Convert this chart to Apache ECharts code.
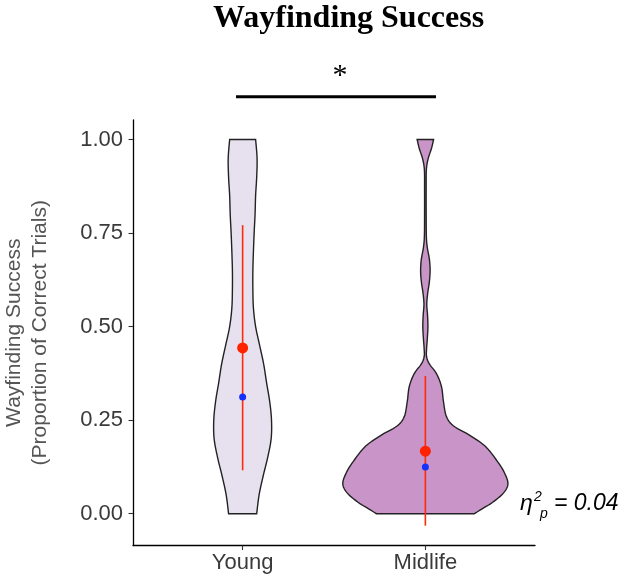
<!DOCTYPE html>
<html>
<head>
<meta charset="utf-8">
<script src="https://cdn.jsdelivr.net/npm/echarts@6/dist/echarts.min.js"></script>
<style>
  html, body { margin: 0; padding: 0; background: #fff; }
  #container { width: 624px; height: 578px; }
</style>
</head>
<body>
<div id="container"></div>
<script>
// groups on the x axis
const groups = ["Young", "Midlife"];
const yTicks = [0, 0.25, 0.5, 0.75, 1];

// violin outlines: y level and half width (in category units)
const youngLevels = [0, 0.05, 0.1, 0.15, 0.2, 0.25, 0.3, 0.35, 0.4, 0.45, 0.5, 0.55, 0.6, 0.65, 0.7, 0.75, 0.8, 0.85, 0.9, 0.95, 1.0];
const youngHalfWidth = [0.077, 0.090, 0.112, 0.137, 0.156, 0.158, 0.148, 0.131, 0.115, 0.093, 0.071, 0.059, 0.056, 0.056, 0.059, 0.063, 0.068, 0.071, 0.077, 0.079, 0.071];

const midlifeLevels = [0, 0.015, 0.03, 0.055, 0.08, 0.11, 0.14, 0.18, 0.21, 0.235, 0.26, 0.3, 0.34, 0.375, 0.4, 0.42, 0.44, 0.47, 0.5, 0.53, 0.56, 0.59, 0.62, 0.65, 0.68, 0.71, 0.74, 0.8, 0.87, 0.92, 0.95, 0.975, 1.0];
const midlifeHalfWidth = [0.268, 0.317, 0.367, 0.427, 0.452, 0.432, 0.394, 0.328, 0.241, 0.153, 0.115, 0.099, 0.088, 0.060, 0.022, 0.0066, 0.0066, 0.011, 0.014, 0.012, 0.0077, 0.013, 0.022, 0.026, 0.022, 0.011, 0.0055, 0.0044, 0.0044, 0.0055, 0.016, 0.033, 0.045];

// summary stats: mean (red), median (blue), error bar ends
const means = [0.443, 0.167];
const medians = [0.312, 0.125];
const barLow = [0.116, -0.032];
const barHigh = [0.771, 0.368];

const fills = ["#e7e1ef", "#c994c7"];
const violins = [
  { levels: youngLevels, half: youngHalfWidth },
  { levels: midlifeLevels, half: midlifeHalfWidth }
];

// catmull-rom so the outline is drawn as a curve
function smoothPts(pts, steps) {
  const out = [];
  for (let i = 0; i < pts.length - 1; i++) {
    const p0 = pts[i - 1] || pts[i], p1 = pts[i], p2 = pts[i + 1], p3 = pts[i + 2] || pts[i + 1];
    for (let s = 0; s < steps; s++) {
      const t = s / steps, t2 = t * t, t3 = t2 * t;
      out.push([0, 1].map(k => 0.5 * (2 * p1[k] + (-p0[k] + p2[k]) * t +
        (2 * p0[k] - 5 * p1[k] + 4 * p2[k] - p3[k]) * t2 +
        (-p0[k] + 3 * p1[k] - 3 * p2[k] + p3[k]) * t3)));
    }
  }
  out.push(pts[pts.length - 1]);
  return out;
}

const font = "Liberation Sans, Arial, sans-serif";

const option = {
  animation: false,
  backgroundColor: "#fff",
  grid: { left: 133, right: 89, top: 120, bottom: 32.5, outerBoundsMode: "none", containLabel: false },
  xAxis: {
    type: "value",
    min: 0.4,
    max: 2.6,
    splitLine: { show: false },
    axisLine: { show: true, onZero: false, lineStyle: { color: "#000", width: 1.3 } },
    axisTick: { show: true, customValues: [1, 2], length: 4.5, lineStyle: { color: "#333", width: 1.1 } },
    axisLabel: {
      customValues: [1, 2],
      formatter: v => groups[Math.round(v) - 1],
      fontFamily: font, fontSize: 22, color: "#3a3a3a", margin: 6
    }
  },
  yAxis: {
    type: "value",
    min: -0.085,
    max: 1.052,
    name: "Wayfinding Success\n(Proportion of Correct Trials)",
    nameLocation: "middle",
    nameGap: 80,
    nameTextStyle: { fontFamily: font, fontSize: 21, color: "#555", lineHeight: 26 },
    splitLine: { show: false },
    axisLine: { show: true, onZero: false, lineStyle: { color: "#000", width: 1.3 } },
    axisTick: { show: true, customValues: yTicks, length: 4.5, lineStyle: { color: "#333", width: 1.1 } },
    axisLabel: {
      customValues: yTicks,
      formatter: v => v.toFixed(2),
      fontFamily: font, fontSize: 22, color: "#3a3a3a", margin: 10
    }
  },
  series: [
    {
      type: "custom",
      z: 1,
      data: groups.map((g, i) => [i + 1]),
      renderItem: function (params, api) {
        const i = params.dataIndex;
        const x = api.value(0);
        const v = violins[i];
        const right = smoothPts(v.levels.map((lv, k) => api.coord([x + v.half[k], lv])), 6);
        const left = smoothPts(v.levels.map((lv, k) => api.coord([x - v.half[k], lv])), 6).reverse();
        return {
          type: "polygon",
          shape: { points: right.concat(left) },
          style: { fill: fills[i], stroke: "#222", lineWidth: 1.4 }
        };
      }
    },
    {
      type: "custom",
      z: 2,
      data: groups.map((g, i) => [i + 1, barLow[i], barHigh[i]]),
      renderItem: function (params, api) {
        const lo = api.coord([api.value(0), api.value(1)]);
        const hi = api.coord([api.value(0), api.value(2)]);
        return {
          type: "line",
          shape: { x1: lo[0], y1: lo[1], x2: hi[0], y2: hi[1] },
          style: { stroke: "#ff2a0a", lineWidth: 1.6 }
        };
      }
    },
    {
      type: "scatter",
      z: 3,
      symbolSize: 11,
      itemStyle: { color: "#ff2200", opacity: 1 },
      data: groups.map((g, i) => [i + 1, means[i]])
    },
    {
      type: "scatter",
      z: 4,
      symbolSize: 7,
      itemStyle: { color: "#1432ff", opacity: 1 },
      data: groups.map((g, i) => [i + 1, medians[i]])
    }
  ],
  graphic: [
    {
      type: "text", left: 213, top: 3,
      style: { text: "Wayfinding Success", font: "bold 32px 'Liberation Serif', 'Times New Roman', serif", fill: "#000" }
    },
    {
      type: "text", x: 340, y: 76,
      style: { text: "*", font: "30px 'Liberation Serif', 'Times New Roman', serif", fill: "#000", align: "center", verticalAlign: "middle" }
    },
    {
      type: "line",
      shape: { x1: 236, y1: 96.7, x2: 436, y2: 96.7 },
      style: { stroke: "#000", lineWidth: 3 }
    },
    {
      type: "text", x: 520, y: 515,
      style: { text: "η", font: "italic 23px " + font, fill: "#000", verticalAlign: "bottom" }
    },
    {
      type: "text", x: 534, y: 504,
      style: { text: "2", font: "italic 14px " + font, fill: "#000", verticalAlign: "bottom" }
    },
    {
      type: "text", x: 540, y: 521,
      style: { text: "p", font: "italic 14px " + font, fill: "#000", verticalAlign: "bottom" }
    },
    {
      type: "text", x: 554, y: 515,
      style: { text: "= 0.04", font: "italic 23px " + font, fill: "#000", verticalAlign: "bottom" }
    }
  ]
};

var dom = document.getElementById("container");
var myChart = echarts.init(dom);
myChart.setOption(option, true);
</script>
</body>
</html>
